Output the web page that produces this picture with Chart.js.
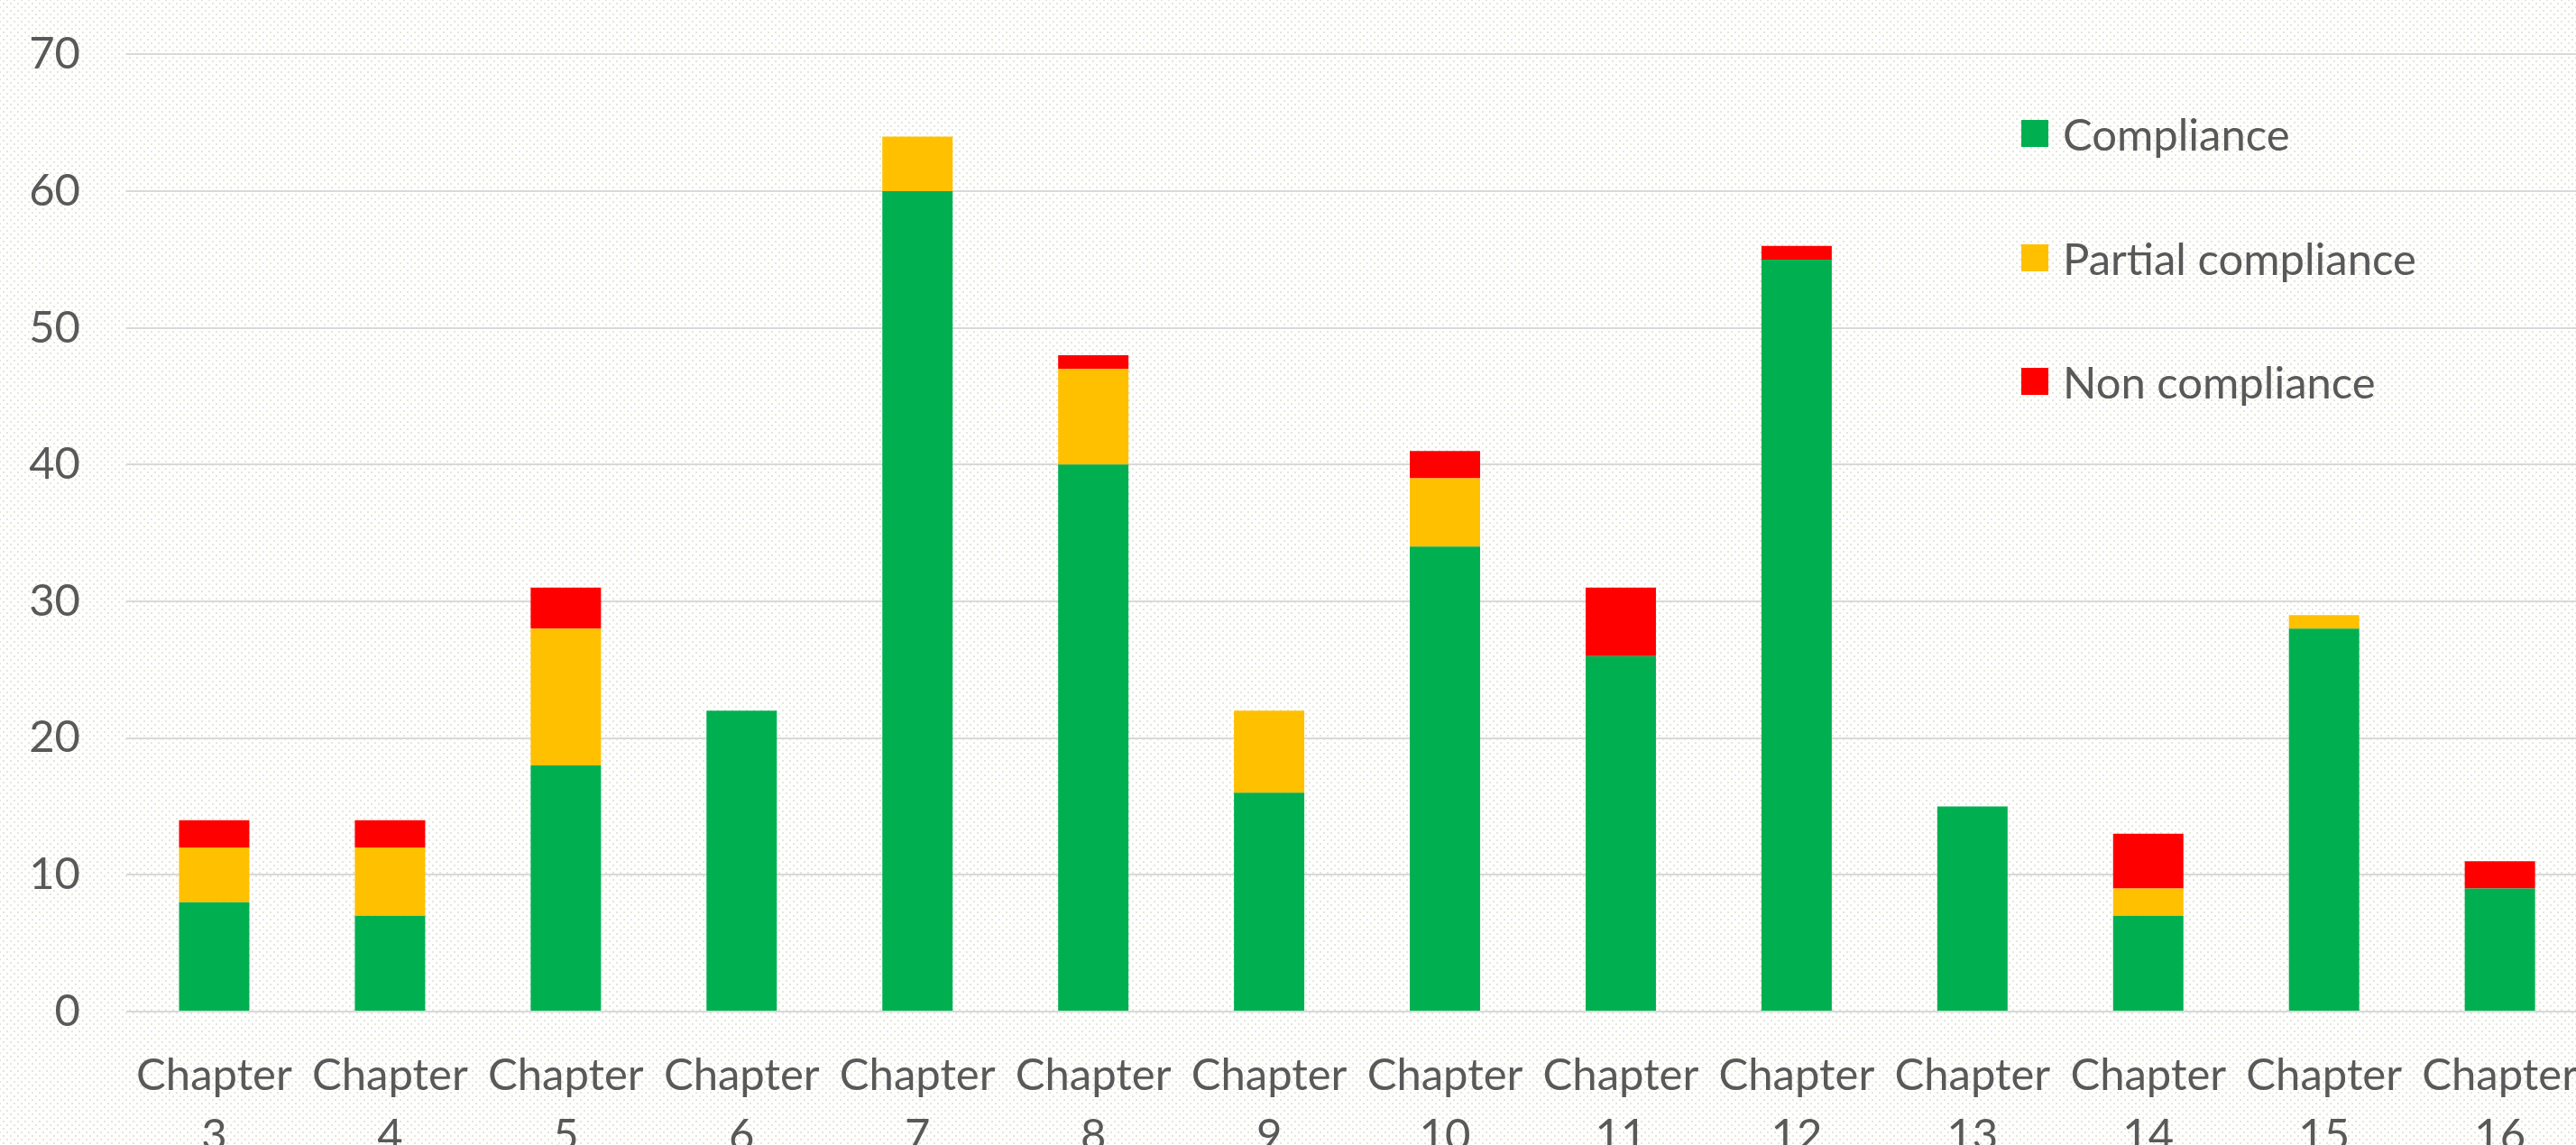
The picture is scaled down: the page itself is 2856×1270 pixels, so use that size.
<!DOCTYPE html>
<html>
<head>
<meta charset="utf-8">
<title>Compliance by chapter</title>
<script src="https://cdn.jsdelivr.net/npm/chart.js@4"></script>
<style>
  html, body {
    margin: 0;
    padding: 0;
  }
  body {
    width: 2856px;
    height: 1270px;
    overflow: hidden;
    position: relative;
    background-color: #ffffff;
    background-image:
      radial-gradient(circle, #e4e7d5 0.9px, transparent 1.4px),
      radial-gradient(circle, #e4e7d5 0.9px, transparent 1.4px);
    background-size: 8px 8px;
    background-position: 0 0, 4px 4px;
  }
  /* canvas is shifted up a little: the y tick padding pushes the plot top down */
  #wrap {
    position: absolute;
    left: 0;
    top: -20px;
    width: 2888px;
    height: 1330px;
  }
  #legend {
    position: absolute;
    left: 2241px;
    top: 0;
    font-family: Lato, sans-serif;
    font-size: 49px;
    color: #595959;
  }
  #legend .item {
    position: absolute;
    left: 0;
    height: 60px;
    display: flex;
    align-items: center;
    white-space: nowrap;
  }
  #legend .box {
    width: 30px;
    height: 30px;
    margin-right: 16px;
  }
</style>
</head>
<body>
<div id="wrap">
  <canvas id="chart" width="2888" height="1330"></canvas>
</div>
<div id="legend"></div>

<script>
// Data
const chapters = ['3', '4', '5', '6', '7', '8', '9', '10', '11', '12', '13', '14', '15', '16'];
const compliance    = [8, 7, 18, 22, 60, 40, 16, 34, 26, 55, 15, 7, 28, 9];
const partial       = [4, 5, 10, 0, 4, 7, 6, 5, 0, 0, 0, 2, 1, 0];
const nonCompliance = [2, 2, 3, 0, 0, 1, 0, 2, 5, 1, 0, 4, 0, 2];

const seriesNames  = ['Compliance', 'Partial compliance', 'Non compliance'];
const seriesColors = ['#00b050', '#ffc000', '#ff0000'];

const yMin = 0;
const yMax = 70;
const yStep = 10;

// Legend row centres (px from top)
const legendRows = [148, 286, 423];

const textColor = '#595959';
const gridColor = '#d9d9d9';
const tickFont = { family: 'Lato', size: 49, lineHeight: 1.37 };

const CANVAS_H = 1330;
const AXIS_Y0 = 1142; // zero line, in canvas pixels

const ctx = document.getElementById('chart').getContext('2d');

const chart = new Chart(ctx, {
  type: 'bar',
  data: {
    labels: chapters.map(c => ['Chapter', c]),
    datasets: [
      { label: seriesNames[0], data: compliance, backgroundColor: seriesColors[0] },
      { label: seriesNames[1], data: partial, backgroundColor: seriesColors[1] },
      { label: seriesNames[2], data: nonCompliance, backgroundColor: seriesColors[2] }
    ]
  },
  options: {
    responsive: false,
    animation: false,
    devicePixelRatio: 1,
    datasets: {
      bar: {
        barPercentage: 0.4,
        categoryPercentage: 1.0,
        borderWidth: 0
      }
    },
    layout: {
      padding: { top: 11, left: 0, right: 0, bottom: 0 }
    },
    plugins: {
      legend: { display: false },
      tooltip: { enabled: false },
      title: { display: false }
    },
    scales: {
      x: {
        stacked: true,
        grid: { display: false },
        border: { display: false },
        ticks: {
          font: tickFont,
          color: textColor,
          padding: 30,
          maxRotation: 0,
          minRotation: 0,
          autoSkip: false
        },
        afterFit: function(scale) {
          scale.height = CANVAS_H - AXIS_Y0;
        }
      },
      y: {
        stacked: true,
        min: yMin,
        max: yMax,
        grid: {
          color: gridColor,
          lineWidth: 2,
          drawTicks: false
        },
        border: { display: false },
        ticks: {
          stepSize: yStep,
          font: { family: 'Lato', size: 49 },
          color: textColor,
          padding: 51
        },
        afterFit: function(scale) {
          scale.width = 140;
        }
      }
    }
  }
});

// HTML legend built from the chart's own legend items
const legendEl = document.getElementById('legend');
const items = chart.options.plugins.legend.labels.generateLabels(chart);
items.forEach((item, i) => {
  const row = document.createElement('div');
  row.className = 'item';
  row.style.top = (legendRows[i] - 30) + 'px';
  row.innerHTML = `<span class="box" style="background:${item.fillStyle}"></span><span>${item.text}</span>`;
  legendEl.appendChild(row);
});
</script>
</body>
</html>
